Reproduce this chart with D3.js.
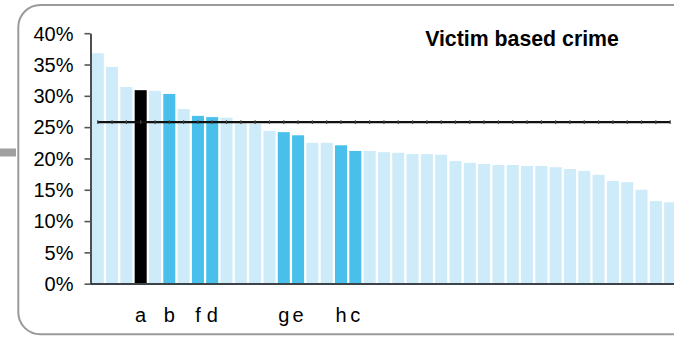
<!DOCTYPE html>
<html><head><meta charset="utf-8">
<script src="https://cdn.jsdelivr.net/npm/d3@7"></script>
<style>html,body{margin:0;padding:0;background:#fff;overflow:hidden}</style>
</head><body>
<svg id="chart" width="674" height="337"></svg>
<script>
const title = "Victim based crime";
const categories = ["","","","a","","b","","f","d","","","","","g","e","","","h","c","","","","","","","","","","","","","","","","","","","","","",""];
const values = [36.8,34.6,31.4,30.9,30.8,30.3,27.9,26.8,26.6,26.5,25.6,25.5,24.4,24.2,23.7,22.5,22.5,22.1,21.2,21.2,21.0,20.9,20.7,20.7,20.6,19.6,19.3,19.1,18.95,18.95,18.8,18.8,18.6,18.3,18.0,17.4,16.4,16.2,15.0,13.2,13.0];
const average = 25.8;
const yTicks = [0,5,10,15,20,25,30,35,40];

const svg = d3.select("#chart");
const font = "'Liberation Sans', Arial, sans-serif";

// left gray tab
svg.append("rect").attr("x",0).attr("y",148.5).attr("width",16).attr("height",8).attr("fill","#a0a0a0");
// rounded border
svg.append("rect").attr("x",18.3).attr("y",5).attr("width",690).attr("height",329.3)
  .attr("rx",22).attr("ry",22).attr("fill","#fff").attr("stroke","#9a9a9a").attr("stroke-width",2);

const idx = d3.range(values.length);
const x = d3.scaleBand().domain(idx).range([90.6, 677.3]).paddingInner(0.16).paddingOuter(0.08);
const y = d3.scaleLinear().domain([0,40]).range([283.7, 33.2]);

const colorOf = i => categories[i] === "a" ? "#000000" : (categories[i] ? "#48c0eb" : "#cdebf8");

svg.append("g").selectAll("rect").data(idx).join("rect")
  .attr("x", i => x(i)).attr("width", x.bandwidth())
  .attr("y", i => y(values[i])).attr("height", i => y(0) - y(values[i]))
  .attr("fill", colorOf);

// x axis line
svg.append("line").attr("x1",90.5).attr("x2",674).attr("y1",y(0)+0.3).attr("y2",y(0)+0.3)
  .attr("stroke","#3c4448").attr("stroke-width",2);

// y axis
const yAxis = d3.axisLeft(y).tickValues(yTicks).tickFormat(d => d + "%").tickSize(6).tickSizeOuter(0).tickPadding(11);
const gy = svg.append("g").attr("transform","translate(90.5,0)").call(yAxis);
gy.select(".domain").attr("stroke","#222").attr("stroke-width",1.6);
gy.selectAll(".tick line").attr("stroke","#555").attr("stroke-width",1.6);
gy.selectAll(".tick text").attr("font-family",font).attr("font-size",20).attr("fill","#000").attr("dy","0.34em");

// average line
const cx = i => x(i) + x.bandwidth()/2;
const line = d3.line().x(i => cx(i)).y(() => y(average));
svg.append("path").datum(idx).attr("d", line).attr("fill","none").attr("stroke","#111").attr("stroke-width",2.4);
svg.append("g").selectAll("line").data(idx).join("line")
  .attr("x1", cx).attr("x2", cx).attr("y1", y(average)-1.8).attr("y2", y(average)+1.8)
  .attr("stroke","#444").attr("stroke-width",1.2);

// category labels
svg.append("g").selectAll("text").data(idx.filter(i => categories[i])).join("text")
  .attr("x", cx).attr("y", 322).attr("text-anchor","middle")
  .attr("font-family",font).attr("font-size",20).attr("fill","#000")
  .text(i => categories[i]);

// title
svg.append("text").attr("x",522).attr("y",46).attr("text-anchor","middle")
  .attr("font-family",font).attr("font-size",21.3).attr("font-weight","bold").attr("fill","#000")
  .text(title);
</script>
</body></html>
